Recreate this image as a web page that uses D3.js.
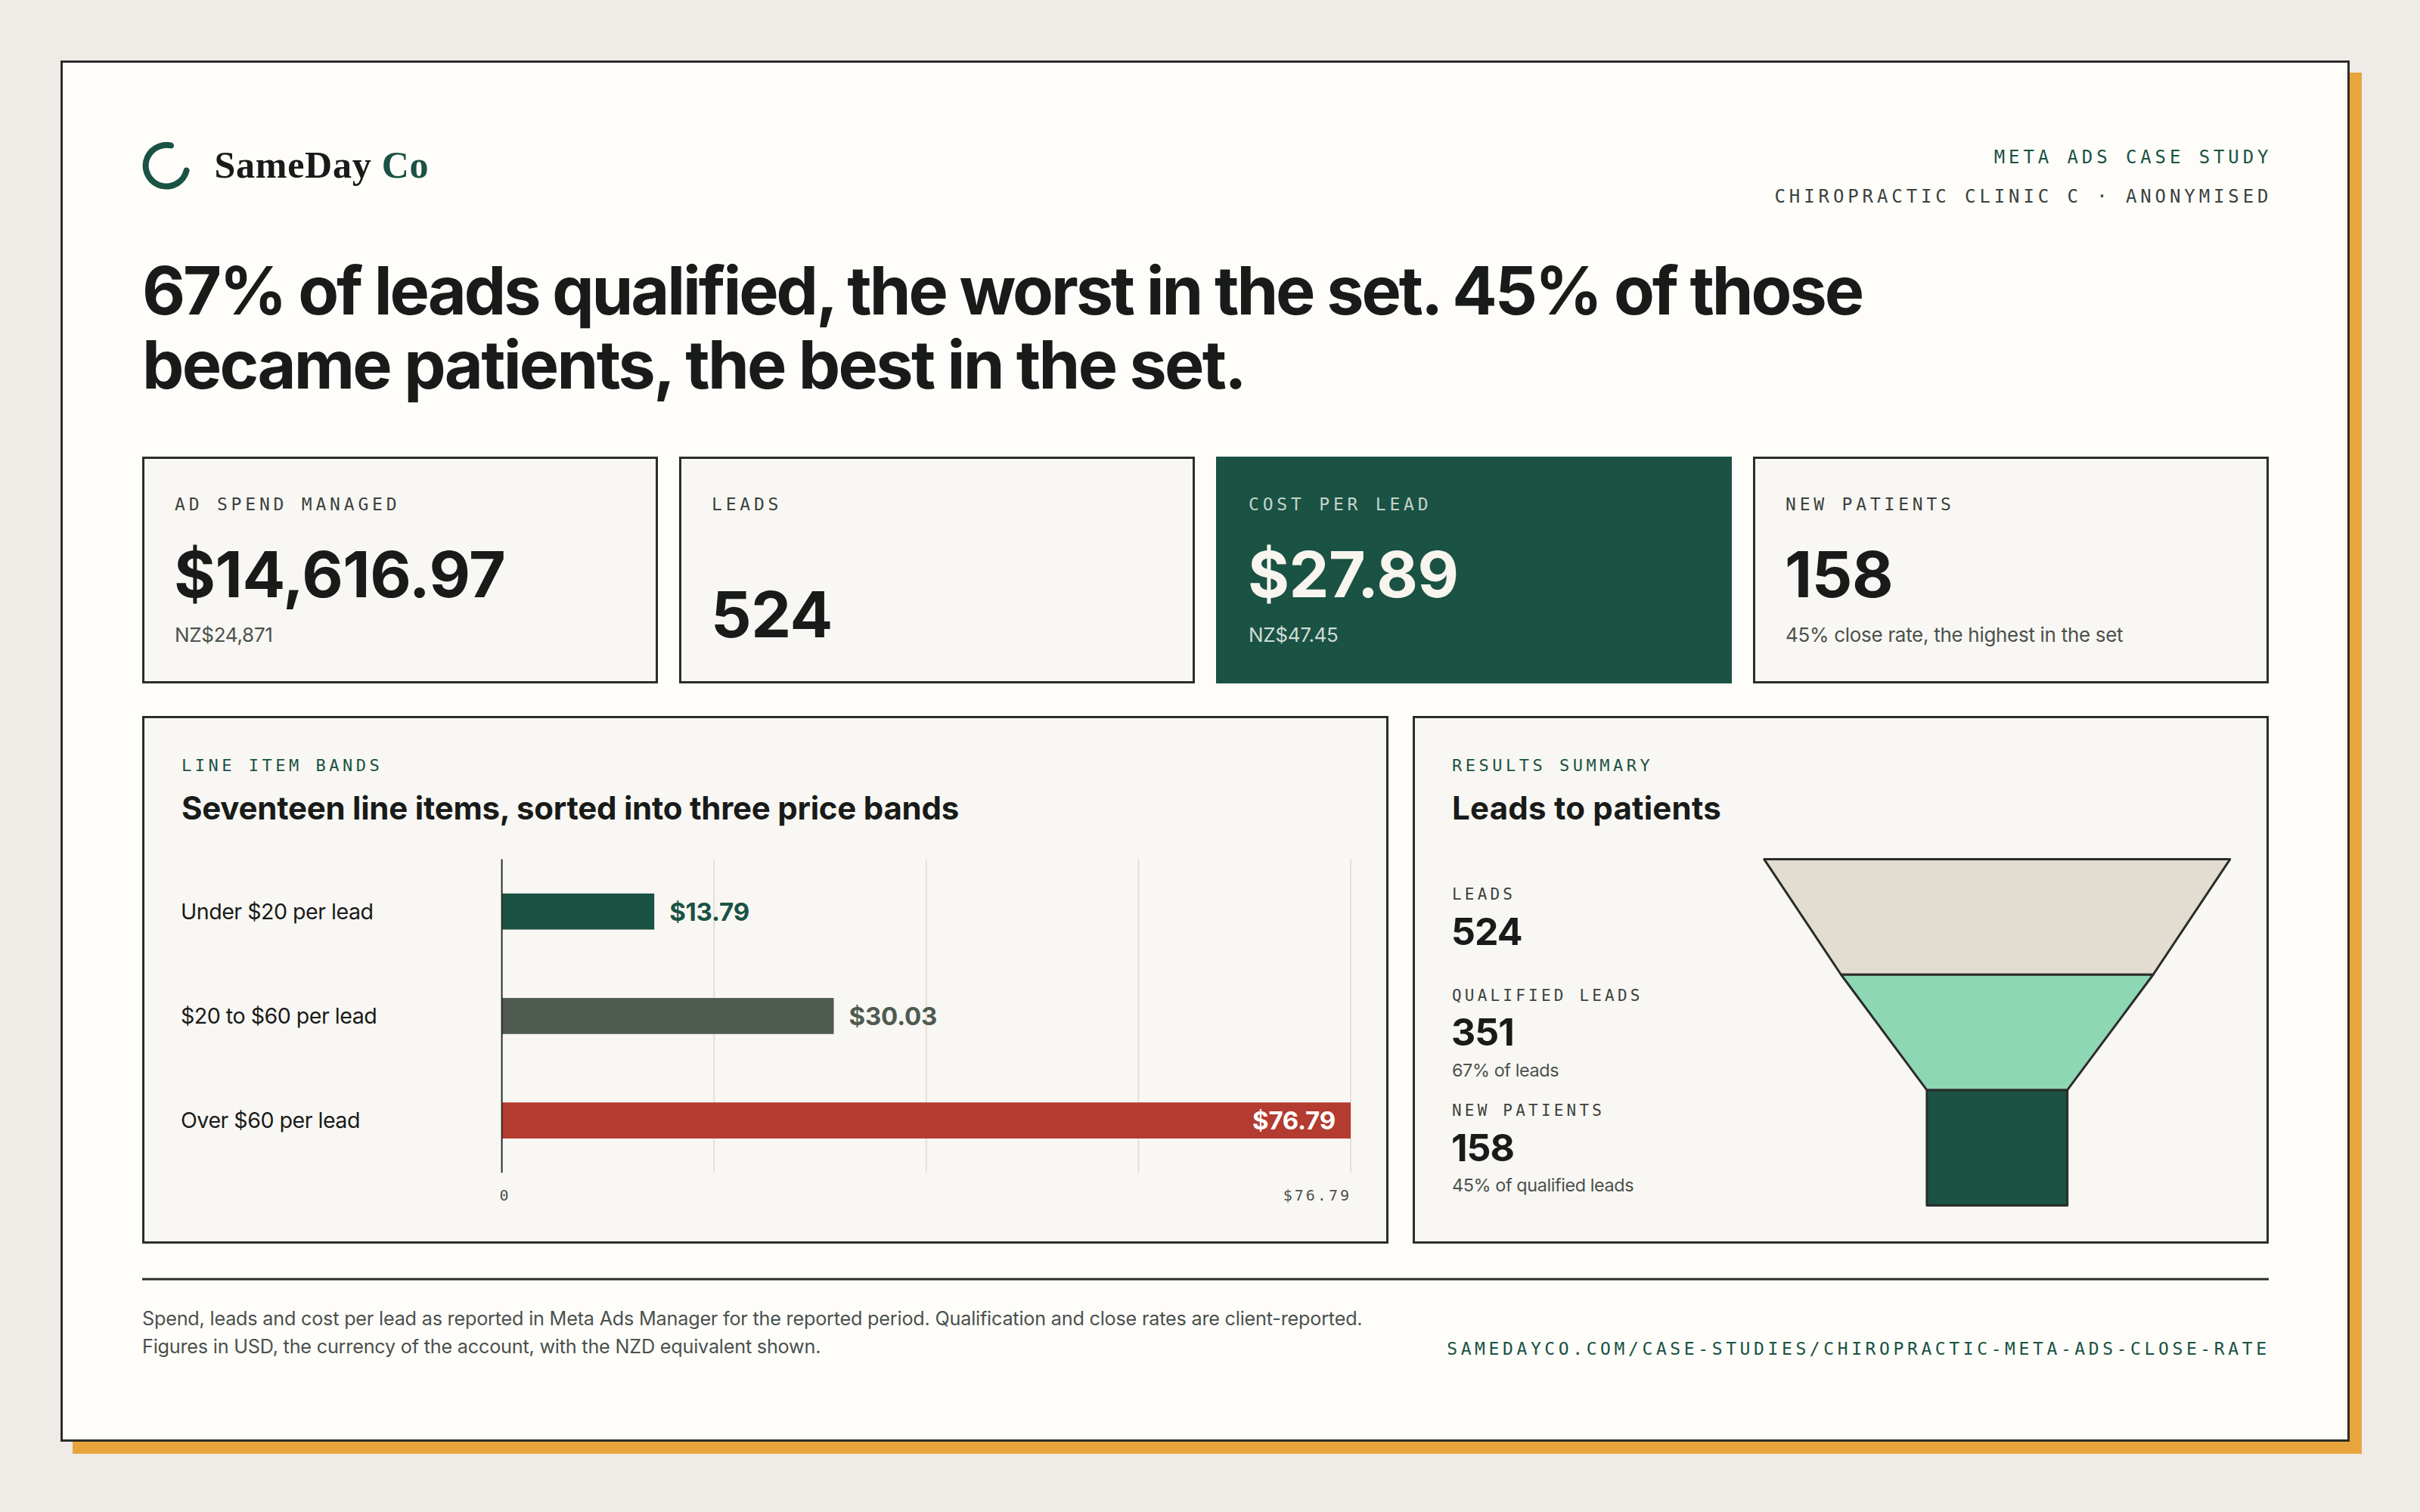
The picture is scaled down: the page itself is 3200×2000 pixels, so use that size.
<!DOCTYPE html>
<html>
<head>
<meta charset="utf-8">
<script src="https://cdn.jsdelivr.net/npm/d3@7"></script>
<style>
  html, body { margin: 0; padding: 0; background: #efebe6; }
  svg { display: block; }
</style>
</head>
<body>
<svg id="chart"></svg>
<script>
const kpiLabels = ["AD SPEND MANAGED", "LEADS", "COST PER LEAD", "NEW PATIENTS"];
const kpiValues = ["$14,616.97", "524", "$27.89", "158"];
const kpiSubs = ["NZ$24,871", "", "NZ$47.45", "45% close rate, the highest in the set"];

const bandNames = ["Under $20 per lead", "$20 to $60 per lead", "Over $60 per lead"];
const bandCpl = [13.79, 30.03, 76.79];
const axisTicks = [0, 76.79];

const funnelStages = ["LEADS", "QUALIFIED LEADS", "NEW PATIENTS"];
const funnelCounts = [524, 351, 158];
const funnelNotes = ["", "67% of leads", "45% of qualified leads"];

const headline = ["67% of leads qualified, the worst in the set. 45% of those",
                  "became patients, the best in the set."];
const footNotes = ["Spend, leads and cost per lead as reported in Meta Ads Manager for the reported period. Qualification and close rates are client-reported.",
                   "Figures in USD, the currency of the account, with the NZD equivalent shown."];

// ---- look ----
const SANS = "Inter, 'Noto Sans', sans-serif";
const MONO = "'DejaVu Sans Mono', 'Liberation Mono', monospace";
const SERIF = "'Liberation Serif', 'DejaVu Serif', serif";
const C = {
    bg: "#efebe6", card: "#fefdfa", panel: "#f9f7f3", ink: "#181b19", line: "#2b2d2a",
    green: "#1a5244", muted: "#4b514d", grey: "#4f5a51", red: "#b33b30", orange: "#e8a53e",
    beige: "#e3dcd0", mint: "#8ed7b5", grid: "#e6e0d5"
};
const bandColors = [C.green, C.grey, C.red];
const funnelColors = [C.beige, C.mint, C.green];

const svg = d3.select("#chart")
    .attr("width", 3200).attr("height", 2000)
    .attr("viewBox", "0 0 1600 1000");

// small helper for text
function txt(g, x, y, s, o) {
    const t = g.append("text").attr("x", x).attr("y", y).text(s)
        .attr("font-family", o.font || SANS)
        .attr("font-size", o.size)
        .attr("font-weight", o.weight || 400)
        .attr("fill", o.fill || C.ink)
        .attr("text-anchor", o.anchor || "start");
    if (o.ls !== undefined) t.style("letter-spacing", o.ls + "px");
    return t;
}
// spread/tighten letters so a line keeps the width it has in the reference
function fit(t, target) {
    t.style("letter-spacing", "0px");
    const w = t.node().getComputedTextLength();
    t.style("letter-spacing", ((target - w) / t.text().length) + "px");
}

// ---- card ----
svg.append("rect").attr("width", 1600).attr("height", 1000).attr("fill", C.bg);
svg.append("rect").attr("x", 48).attr("y", 48).attr("width", 1513.5).attr("height", 913.5).attr("fill", C.orange);
svg.append("rect").attr("x", 40.75).attr("y", 40.75).attr("width", 1512).attr("height", 912)
    .attr("fill", C.card).attr("stroke", C.line).attr("stroke-width", 1.5);

// ---- header ----
const deg = Math.PI / 180;
svg.append("path")
    .attr("transform", "translate(110,109.6)")
    .attr("d", d3.arc().innerRadius(11.7).outerRadius(15.7).cornerRadius(2)
        .startAngle(95 * deg).endAngle(381 * deg)())
    .attr("fill", C.green);
const logo = txt(svg, 141.7, 117.5, "", { font: SERIF, size: 25, weight: 700 });
logo.append("tspan").text("SameDay ");
logo.append("tspan").attr("fill", C.green).text("Co");
fit(logo, 142);

txt(svg, 1502.2, 108, "META ADS CASE STUDY", { font: MONO, size: 12, ls: 2.45, fill: C.green, anchor: "end" });
txt(svg, 1502.2, 134, "CHIROPRACTIC CLINIC C · ANONYMISED", { font: MONO, size: 12, ls: 2.45, fill: "#3c423e", anchor: "end" });

const headWidths = [1137, 729];
headline.forEach((s, i) => {
    const t = txt(svg, 94, 208 + i * 49, s, { size: 44, weight: 700 });
    fit(t, headWidths[i]);
});

// ---- KPI tiles ----
const kx = d3.scaleBand().domain(kpiLabels).range([94, 1500]).paddingInner(14 / 355);
kpiLabels.forEach((lab, i) => {
    const x = kx(lab), hot = i === 2;
    const g = svg.append("g");
    g.append("rect").attr("x", x + 0.75).attr("y", 302.75)
        .attr("width", kx.bandwidth() - 1.5).attr("height", 148.5)
        .attr("fill", hot ? C.green : C.panel)
        .attr("stroke", hot ? C.green : C.line).attr("stroke-width", 1.5);
    txt(g, x + 21.5, 337.5, lab, { font: MONO, size: 11.5, ls: 2.4, fill: hot ? "#c5d3cb" : "#3c423e" });
    const vy = kpiSubs[i] ? 395 : 421.5;
    txt(g, x + 21, vy, kpiValues[i], { size: 42, weight: 700, ls: -0.2, fill: hot ? "#f8f5ee" : C.ink });
    if (kpiSubs[i]) txt(g, x + 21.5, 424.5, kpiSubs[i], { size: 13, ls: -0.15, fill: hot ? "#d0dcd5" : C.muted });
});

// ---- lower panels ----
const left = svg.append("g"), right = svg.append("g");
left.append("rect").attr("x", 94.75).attr("y", 474.25).attr("width", 822.5).attr("height", 347.5)
    .attr("fill", C.panel).attr("stroke", C.line).attr("stroke-width", 1.5);
right.append("rect").attr("x", 934.75).attr("y", 474.25).attr("width", 564.5).attr("height", 347.5)
    .attr("fill", C.panel).attr("stroke", C.line).attr("stroke-width", 1.5);

txt(left, 120, 510, "LINE ITEM BANDS", { font: MONO, size: 11, ls: 2.25, fill: C.green });
fit(txt(left, 120, 542, "Seventeen line items, sorted into three price bands", { size: 21, weight: 700 }), 514);
txt(right, 960, 510, "RESULTS SUMMARY", { font: MONO, size: 11, ls: 2.25, fill: C.green });
fit(txt(right, 960, 542, "Leads to patients", { size: 21, weight: 700 }), 178);

// bar chart: cost per lead by band
const x = d3.scaleLinear().domain([0, d3.max(bandCpl)]).range([331.8, 893]);
const y = d3.scaleBand().domain(bandNames).range([568.3, 775.6]).paddingInner(0.655).paddingOuter(0.3275);

left.append("g").selectAll("line")
    .data([1, 2, 3, 4].map(k => x.domain()[1] * k / 4))
    .join("line")
    .attr("x1", d => x(d)).attr("x2", d => x(d))
    .attr("y1", y.range()[0]).attr("y2", y.range()[1])
    .attr("stroke", C.grid).attr("stroke-width", 1);

left.append("g").selectAll("rect")
    .data(bandNames)
    .join("rect")
    .attr("x", x(0)).attr("y", d => y(d))
    .attr("width", (d, i) => x(bandCpl[i]) - x(0))
    .attr("height", y.bandwidth())
    .attr("fill", (d, i) => bandColors[i]);

left.append("line")
    .attr("x1", x(0)).attr("x2", x(0))
    .attr("y1", y.range()[0]).attr("y2", y.range()[1])
    .attr("stroke", C.line).attr("stroke-width", 1);

left.append("g").selectAll("text")
    .data(bandNames)
    .join("text")
    .attr("x", 119.5).attr("y", d => y(d) + y.bandwidth() / 2).attr("dy", "0.36em")
    .attr("font-family", SANS).attr("font-size", 14.3).attr("fill", C.ink)
    .style("letter-spacing", "-0.25px")
    .text(d => d);

left.append("g").selectAll("text")
    .data(bandCpl)
    .join("text")
    .each(function (v, i) {
        const inside = x(v) + 70 > x.range()[1];
        d3.select(this)
            .attr("x", inside ? x(v) - 10 : x(v) + 10)
            .attr("text-anchor", inside ? "end" : "start")
            .attr("fill", inside ? "#ffffff" : bandColors[i]);
    })
    .attr("y", (v, i) => y(bandNames[i]) + y.bandwidth() / 2).attr("dy", "0.36em")
    .attr("font-family", SANS).attr("font-size", 16.5).attr("font-weight", 700)
    .style("letter-spacing", "-0.1px")
    .text(v => "$" + v.toFixed(2));

const xAxis = d3.axisBottom(x).tickValues(axisTicks).tickSize(0)
    .tickFormat(d => d === 0 ? "0" : "$" + d.toFixed(2));
const ax = left.append("g").attr("transform", `translate(0,${y.range()[1]})`).call(xAxis);
ax.select(".domain").remove();
ax.selectAll("text")
    .attr("y", 794 - y.range()[1]).attr("dy", 0)
    .attr("font-family", MONO).attr("font-size", 10).attr("fill", C.muted)
    .style("letter-spacing", "1.5px")
    .attr("text-anchor", (d, i) => i === 0 ? "start" : "end")
    .attr("dx", (d, i) => i === 0 ? -2 : 0);

// funnel: widths scale with counts
const fw = d3.scaleLinear().domain([0, d3.max(funnelCounts)]).range([0, 308]);
const fy = d3.scaleBand().domain(funnelStages).range([568.3, 797.3]);
const cx = 1320.4;
const funnelLine = d3.line();
right.append("g").selectAll("path")
    .data(funnelStages)
    .join("path")
    .attr("d", (s, i) => {
        const top = fw(funnelCounts[i]) / 2;
        const bot = fw(funnelCounts[i + 1] !== undefined ? funnelCounts[i + 1] : funnelCounts[i]) / 2;
        const y0 = fy(s), y1 = y0 + fy.bandwidth();
        return funnelLine([[cx - top, y0], [cx + top, y0], [cx + bot, y1], [cx - bot, y1]]) + "Z";
    })
    .attr("fill", (s, i) => funnelColors[i])
    .attr("stroke", C.line).attr("stroke-width", 1.5).attr("stroke-linejoin", "round");

// funnel figures, stacked down the left of the panel
let sy = 595;
funnelStages.forEach((s, i) => {
    txt(right, 960, sy, s, { font: MONO, size: 10.5, ls: 2.1, fill: "#3c423e" });
    const vy = sy + 29.8;
    txt(right, 959.5, vy, d3.format(",")(funnelCounts[i]), { size: 25, weight: 700, ls: -0.5 });
    sy = vy + 37;
    if (funnelNotes[i]) {
        txt(right, 960, vy + 20.4, funnelNotes[i], { size: 11.7, ls: -0.2, fill: C.muted });
        sy = vy + 20.4 + 26;
    }
});

// ---- footer ----
svg.append("line").attr("x1", 94).attr("x2", 1500).attr("y1", 846).attr("y2", 846)
    .attr("stroke", C.line).attr("stroke-width", 1.5);
footNotes.forEach((s, i) => txt(svg, 94, 876.7 + i * 18.3, s, { size: 12.6, ls: -0.1, fill: C.muted }));
txt(svg, 1500.8, 896, "SAMEDAYCO.COM/CASE-STUDIES/CHIROPRACTIC-META-ADS-CLOSE-RATE",
    { font: MONO, size: 11.5, ls: 2.3, fill: C.green, anchor: "end" });
</script>
</body>
</html>
